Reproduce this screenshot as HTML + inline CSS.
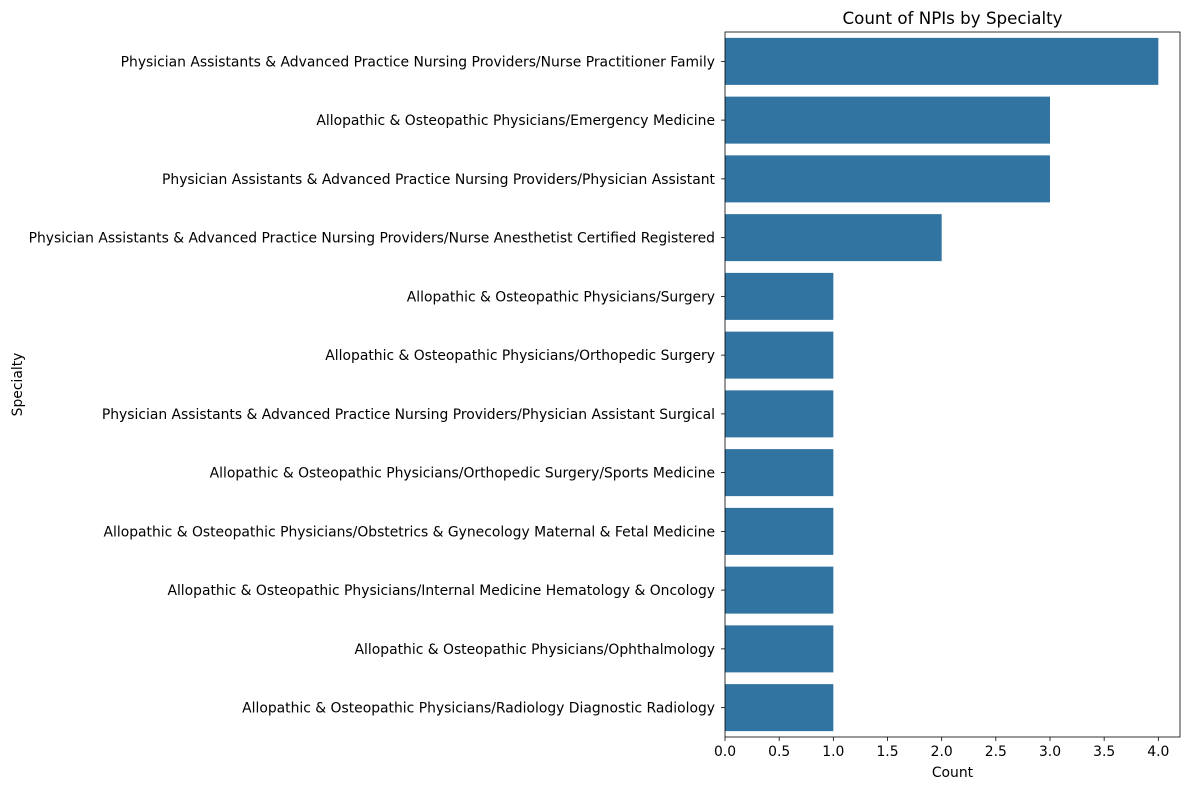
<!DOCTYPE html>
<html><head><meta charset="utf-8"><style>
body{margin:0;background:#fff;}
svg text{font-family:"DejaVu Sans","Liberation Sans",sans-serif;fill:#000;}
</style></head><body>
<svg id="chart" width="1190" height="790" xmlns="http://www.w3.org/2000/svg"></svg>
<script>
const categories = [
"Physician Assistants & Advanced Practice Nursing Providers/Nurse Practitioner Family",
"Allopathic & Osteopathic Physicians/Emergency Medicine",
"Physician Assistants & Advanced Practice Nursing Providers/Physician Assistant",
"Physician Assistants & Advanced Practice Nursing Providers/Nurse Anesthetist Certified Registered",
"Allopathic & Osteopathic Physicians/Surgery",
"Allopathic & Osteopathic Physicians/Orthopedic Surgery",
"Physician Assistants & Advanced Practice Nursing Providers/Physician Assistant Surgical",
"Allopathic & Osteopathic Physicians/Orthopedic Surgery/Sports Medicine",
"Allopathic & Osteopathic Physicians/Obstetrics & Gynecology Maternal & Fetal Medicine",
"Allopathic & Osteopathic Physicians/Internal Medicine Hematology & Oncology",
"Allopathic & Osteopathic Physicians/Ophthalmology",
"Allopathic & Osteopathic Physicians/Radiology Diagnostic Radiology"];
const counts = [4,3,3,2,1,1,1,1,1,1,1,1];
const xTicks = [0,0.5,1,1.5,2,2.5,3,3.5,4];
const xTickLabels = ["0.0","0.5","1.0","1.5","2.0","2.5","3.0","3.5","4.0"];

const svg = document.getElementById('chart');
const NS = 'http://www.w3.org/2000/svg';
const L=725, R=1180, T=32, B=737;
const xMax = 4.2;
const x = v => L + v/xMax*(R-L);
const band = (B-T)/categories.length;
const yC = i => T + band*(i+0.5);
function mk(tag, attrs, text){const e=document.createElementNS(NS,tag);for(const k in attrs)e.setAttribute(k,attrs[k]);if(text!==undefined)e.textContent=text;svg.appendChild(e);return e;}

counts.forEach((v,i)=>{
  const r = mk('rect',{x:x(0),y:yC(i)-band*0.4,width:x(v)-x(0),height:band*0.8,fill:'#3274a1'});
  
  
  mk('line',{x1:L-4,x2:L,y1:yC(i),y2:yC(i),stroke:'#000','stroke-width':0.8});
  const t = mk('text',{x:L-10,y:yC(i)+5,'text-anchor':'end','font-size':'13.9'},categories[i]);
  
  
});
xTicks.forEach((v,i)=>{
  mk('line',{x1:x(v),x2:x(v),y1:B,y2:B+4,stroke:'#000','stroke-width':0.8});
  const t = mk('text',{x:x(v),y:B+19,'text-anchor':'middle','font-size':'13.9'},xTickLabels[i]);
  
  
});
const frame = mk('rect',{x:L,y:T,width:R-L,height:B-T,fill:'none',stroke:'#000','stroke-width':0.8});


const title = mk('text',{x:(L+R)/2,y:T-8,'text-anchor':'middle','font-size':'16.7'},'Count of NPIs by Specialty');


const xl = mk('text',{x:(L+R)/2,y:777,'text-anchor':'middle','font-size':'13.9'},'Count');


const yl = mk('text',{x:0,y:0,'text-anchor':'middle','font-size':'13.9',transform:'translate(22,'+((T+B)/2)+') rotate(-90)'},'Specialty');


</script>
</body></html>
